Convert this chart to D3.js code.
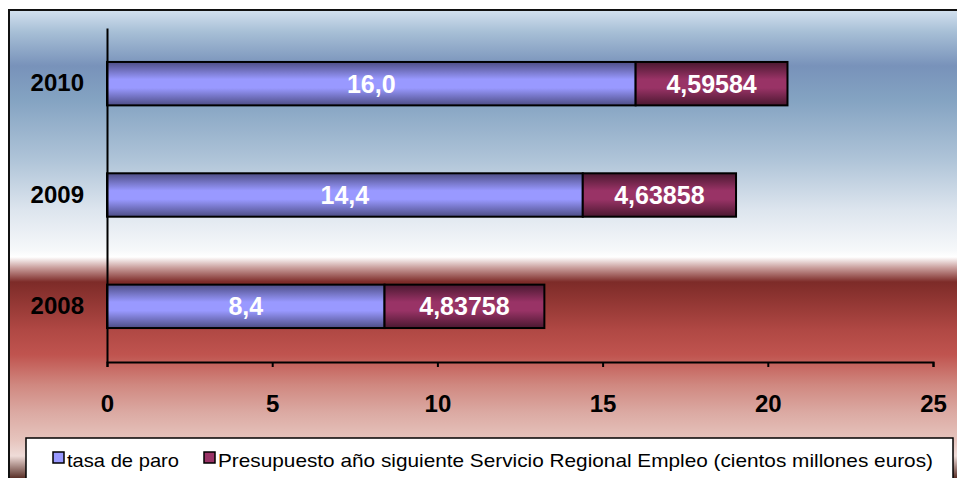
<!DOCTYPE html>
<html>
<head>
<meta charset="utf-8">
<script src="https://cdn.jsdelivr.net/npm/d3@7"></script>
<style>
  body { margin: 0; background: #fff; }
  svg { display: block; font-family: "Liberation Sans", Arial, sans-serif; }
</style>
</head>
<body>
<div id="body"></div>
<script>
// data
let years = ["2010", "2009", "2008"]
let tasaParo = [16.0, 14.4, 8.4]
let presupuesto = [4.59584, 4.63858, 4.83758]
let xTicks = [0, 5, 10, 15, 20, 25]
let seriesNames = ["tasa de paro", "Presupuesto año siguiente Servicio Regional Empleo (cientos millones euros)"]

let W = 957, H = 478
let margin = { top: 28, right: 24, bottom: 116, left: 107 },
  width = 933 - margin.left,
  height = 362 - margin.top

let svg = d3.select("#body")
  .append("svg")
  .attr("width", W)
  .attr("height", H)

let defs = svg.append("defs")

// background gradient (blue on top, white band, red below)
let bg = defs.append("linearGradient")
  .attr("id", "bgGrad")
  .attr("gradientUnits", "userSpaceOnUse")
  .attr("x1", 0).attr("y1", 10).attr("x2", 0).attr("y2", 478)
let bgStops = [
  [10, "#d3e1ef"], [32, "#a7bfd6"], [66, "#7892ba"], [100, "#84a3c2"],
  [160, "#afc4d8"], [210, "#dde5ee"], [250, "#f6f8fa"], [257, "#ffffff"],
  [268, "#c89c9a"], [282, "#7d2b28"], [330, "#b04844"], [355, "#c0544f"],
  [385, "#d08880"], [412, "#dba9a2"], [440, "#e6c4bd"], [456, "#efdcd8"],
  [478, "#5a3028"]
]
bg.selectAll("stop")
  .data(bgStops)
  .enter()
  .append("stop")
  .attr("offset", function (d) { return (d[0] - 10) / 468 })
  .attr("stop-color", function (d) { return d[1] })

// bar gradients: dark edges, light centre
function barGradient(id, edge, mid) {
  let g = defs.append("linearGradient")
    .attr("id", id)
    .attr("x1", 0).attr("y1", 0).attr("x2", 0).attr("y2", 1)
  g.append("stop").attr("offset", 0).attr("stop-color", edge)
  g.append("stop").attr("offset", 0.4).attr("stop-color", mid)
  g.append("stop").attr("offset", 0.6).attr("stop-color", mid)
  g.append("stop").attr("offset", 1).attr("stop-color", edge)
}
barGradient("blueGrad", "#4d4d85", "#9999ff")
barGradient("redGrad", "#4a1830", "#993366")

// chart area with border
svg.append("rect")
  .attr("x", 9)
  .attr("y", 10)
  .attr("width", W + 10)
  .attr("height", H)
  .attr("fill", "url(#bgGrad)")
  .attr("stroke", "#111")
  .attr("stroke-width", 2)

let g = svg.append("g")
  .attr("transform", "translate(" + margin.left + "," + margin.top + ")")

let x = d3.scaleLinear()
  .domain([0, 25])
  .range([0, width])

let y = d3.scaleBand()
  .domain(years)
  .range([0, height])
  .paddingInner(0.61)
  .paddingOuter(0.305)

let rows = years.map(function (yr, i) {
  return { year: yr, a: tasaParo[i], b: presupuesto[i] }
})

let fmt = function (v, n) { return v.toFixed(n).replace(".", ",") }

// tasa de paro segments
g.selectAll(".barA")
  .data(rows)
  .enter()
  .append("rect")
  .attr("class", "barA")
  .attr("x", x(0))
  .attr("y", function (d) { return y(d.year) })
  .attr("width", function (d) { return x(d.a) - x(0) })
  .attr("height", y.bandwidth())
  .attr("fill", "url(#blueGrad)")
  .attr("stroke", "#000")
  .attr("stroke-width", 2)

// presupuesto segments
g.selectAll(".barB")
  .data(rows)
  .enter()
  .append("rect")
  .attr("class", "barB")
  .attr("x", function (d) { return x(d.a) })
  .attr("y", function (d) { return y(d.year) })
  .attr("width", function (d) { return x(d.a + d.b) - x(d.a) })
  .attr("height", y.bandwidth())
  .attr("fill", "url(#redGrad)")
  .attr("stroke", "#000")
  .attr("stroke-width", 2)

// value labels
g.selectAll(".labA")
  .data(rows)
  .enter()
  .append("text")
  .attr("x", function (d) { return x(d.a / 2) })
  .attr("y", function (d) { return y(d.year) + y.bandwidth() / 2 })
  .attr("dy", "0.36em")
  .attr("text-anchor", "middle")
  .attr("fill", "#fff")
  .style("font-size", "25px")
  .style("font-weight", "bold")
  .text(function (d) { return fmt(d.a, 1) })

g.selectAll(".labB")
  .data(rows)
  .enter()
  .append("text")
  .attr("x", function (d) { return x(d.a + d.b / 2) })
  .attr("y", function (d) { return y(d.year) + y.bandwidth() / 2 })
  .attr("dy", "0.36em")
  .attr("text-anchor", "middle")
  .attr("fill", "#fff")
  .style("font-size", "25px")
  .style("font-weight", "bold")
  .text(function (d) { return fmt(d.b, 5) })

// X axis
let xAxis = g.append("g")
  .attr("transform", "translate(0," + height + ")")
  .call(d3.axisBottom(x).tickValues(xTicks).tickSize(5).tickSizeOuter(5).tickPadding(28))
xAxis.selectAll("path, line").attr("stroke", "#000").attr("stroke-width", 2)
xAxis.selectAll("text")
  .attr("fill", "#000")
  .style("font-size", "24px")
  .style("font-weight", "bold")
  .style("font-family", "'Liberation Sans', Arial, sans-serif")

// Y axis
let yAxis = g.append("g")
  .call(d3.axisLeft(y).tickSize(0).tickPadding(23))
yAxis.select(".domain").attr("stroke", "#000").attr("stroke-width", 2)
yAxis.selectAll("text")
  .attr("fill", "#000")
  .style("font-size", "24px")
  .style("font-weight", "bold")
  .style("font-family", "'Liberation Sans', Arial, sans-serif")

// legend
let legend = svg.append("g")
legend.append("rect")
  .attr("x", 26)
  .attr("y", 438)
  .attr("width", 927)
  .attr("height", 60)
  .attr("fill", "#fff")
  .attr("stroke", "#000")
  .attr("stroke-width", 1.5)

let legendFills = ["#9999ff", "#993366"]
let legendX = [53, 204]
let legendLen = [112, 715]
seriesNames.forEach(function (name, i) {
  legend.append("rect")
    .attr("x", legendX[i])
    .attr("y", 452)
    .attr("width", 11)
    .attr("height", 11)
    .attr("fill", legendFills[i])
    .attr("stroke", "#000")
    .attr("stroke-width", 1.5)
  legend.append("text")
    .attr("x", legendX[i] + 14)
    .attr("y", 467)
    .attr("fill", "#000")
    .attr("textLength", legendLen[i])
    .attr("lengthAdjust", "spacingAndGlyphs")
    .style("font-size", "19px")
    .text(name)
})
</script>
</body>
</html>
